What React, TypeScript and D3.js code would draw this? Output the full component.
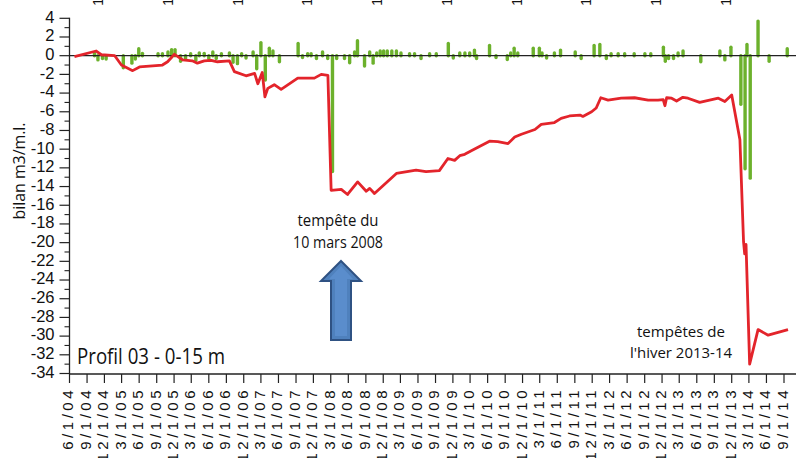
import React from 'react';
import * as d3 from 'd3';

const W = 796;
const H = 458;

const lineDates = ['2004-06-27','2004-10-19','2004-11-15','2005-01-24','2005-02-28','2005-04-28','2005-06-03','2005-10-01','2005-10-28','2005-12-03','2006-01-15','2006-03-06','2006-04-02','2006-05-08','2006-06-13','2006-07-16','2006-09-17','2006-10-13','2006-12-13','2007-01-27','2007-02-13','2007-03-08','2007-03-22','2007-04-06','2007-05-10','2007-06-15','2007-09-10','2007-12-06','2008-01-11','2008-02-15','2008-03-03','2008-04-25','2008-05-28','2008-07-20','2008-09-03','2008-09-21','2008-10-16','2009-02-08','2009-05-22','2009-07-13','2009-09-21','2009-11-05','2009-12-10','2010-01-06','2010-02-01','2010-03-15','2010-06-11','2010-07-24','2010-09-16','2010-10-21','2010-11-25','2011-02-04','2011-03-09','2011-05-17','2011-06-21','2011-08-04','2011-09-28','2011-10-13','2011-11-28','2011-12-22','2012-01-15','2012-02-22','2012-05-01','2012-07-10','2012-09-19','2012-11-10','2012-12-07','2012-12-16','2012-12-25','2013-01-20','2013-02-15','2013-03-20','2013-04-16','2013-06-16','2013-09-22','2013-10-26','2013-12-01','2014-01-13','2014-02-01','2014-02-07','2014-02-14','2014-03-05','2014-04-18','2014-06-10','2014-09-22'];
const lineValues = [-0.1,0.5,0.1,0.0,-1.0,-1.6,-1.2,-1.0,-0.65,0.15,-0.45,-0.55,-0.8,-0.55,-0.5,-0.65,-0.55,-1.7,-2.15,-1.9,-3.0,-1.8,-4.4,-3.5,-3.1,-3.6,-2.4,-2.4,-2.0,-2.1,-14.4,-14.3,-14.85,-13.5,-14.5,-14.2,-14.75,-12.6,-12.25,-12.4,-12.3,-11.0,-11.2,-10.7,-10.55,-10.1,-9.15,-9.2,-9.4,-8.7,-8.4,-7.9,-7.35,-7.15,-6.7,-6.45,-6.35,-6.5,-6.0,-5.6,-4.5,-4.75,-4.55,-4.5,-4.75,-4.75,-4.7,-5.35,-4.5,-4.55,-4.85,-4.45,-4.55,-5.0,-4.55,-4.9,-4.2,-9.0,-19.9,-21.2,-20.2,-33.0,-29.3,-29.9,-29.3];

const barDates = ['2004-10-10','2004-10-28','2004-11-21','2004-12-10','2005-03-10','2005-04-24','2005-05-12','2005-05-30','2005-06-18','2005-09-08','2005-10-01','2005-10-30','2005-11-18','2005-12-06','2006-01-04','2006-01-30','2006-02-26','2006-03-25','2006-04-12','2006-05-08','2006-06-01','2006-06-22','2006-07-10','2006-08-06','2006-09-17','2006-10-06','2006-10-29','2006-11-20','2006-12-13','2007-01-19','2007-02-07','2007-03-01','2007-03-24','2007-04-14','2007-05-03','2007-06-06','2007-09-12','2007-10-05','2007-11-01','2007-11-19','2007-12-17','2008-01-18','2008-02-14','2008-03-10','2008-04-01','2008-05-12','2008-06-08','2008-07-04','2008-07-19','2008-08-25','2008-09-21','2008-10-09','2008-10-28','2008-11-15','2008-12-03','2008-12-22','2009-01-15','2009-02-08','2009-03-04','2009-04-18','2009-05-14','2009-06-17','2009-08-01','2009-09-05','2009-11-07','2009-12-03','2010-01-06','2010-02-02','2010-02-27','2010-03-24','2010-04-04','2010-06-11','2010-07-15','2010-09-12','2010-09-30','2010-10-18','2010-11-06','2011-01-26','2011-02-27','2011-03-13','2011-04-06','2011-05-17','2011-06-18','2011-09-03','2011-10-04','2011-12-11','2012-01-10','2012-02-13','2012-03-09','2012-04-15','2012-05-19','2012-07-08','2012-09-02','2012-10-03','2012-12-08','2012-12-18','2013-01-04','2013-01-30','2013-02-23','2013-03-21','2013-06-22','2013-09-30','2013-10-26','2013-11-27','2014-01-18','2014-02-09','2014-02-19','2014-03-08','2014-04-18','2014-06-15','2014-09-18'];
const barValues = [0.3,-0.45,-0.3,-0.35,-1.3,-0.8,-0.35,0.75,0.25,0.2,0.2,0.4,0.65,0.65,-0.6,-0.3,0.2,-0.5,0.3,0.25,-0.3,0.4,-0.3,0.2,0.3,-0.7,-0.85,0.2,-0.25,0.4,-1.4,1.4,-2.6,0.8,0.5,-0.65,1.3,-0.2,0.2,0.2,-0.3,0.4,-0.3,-12.4,-0.3,-0.3,-0.75,0.4,1.6,-1.1,0.4,-0.8,0.3,0.5,0.5,0.5,0.5,0.5,0.3,0.2,0.2,-0.3,0.2,0.2,1.3,-0.25,0.3,0.3,0.3,0.6,-0.3,1.1,-0.2,-0.4,0.3,0.8,0.3,0.8,0.8,0.3,-0.25,0.3,0.6,0.4,-0.3,1.1,1.2,-0.3,0.2,0.2,0.2,0.2,0.2,0.2,0.9,-0.6,-0.3,-0.3,0.3,0.5,-0.65,0.5,-0.45,0.9,-5.2,-12.1,1.2,-13.1,3.7,-0.6,0.75];

const yTickLabels = ['4','2','0','-2','-4','-6','-8','-10','-12','-14','-16','-18','-20','-22','-24','-26','-28','-30','-32','-34'];
const xTickLabels = ['6/1/04','9/1/04','12/1/04','3/1/05','6/1/05','9/1/05','12/1/05','3/1/06','6/1/06','9/1/06','12/1/06','3/1/07','6/1/07','9/1/07','12/1/07','3/1/08','6/1/08','9/1/08','12/1/08','3/1/09','6/1/09','9/1/09','12/1/09','3/1/10','6/1/10','9/1/10','12/1/10','3/1/11','6/1/11','9/1/11','12/1/11','3/1/12','6/1/12','9/1/12','12/1/12','3/1/13','6/1/13','9/1/13','12/1/13','3/1/14','6/1/14','9/1/14'];
const topCutLabels = ['12/1/04','12/1/05','12/1/06','12/1/07','12/1/08','12/1/09','12/1/10','12/1/11','12/1/12','12/1/13'];

const parseIso = d3.timeParse('%Y-%m-%d');
const parseTick = d3.timeParse('%m/%d/%y');

const RED = '#e3242b';
const GREEN = '#6cb12c';
const TICK_FONT = "'Liberation Sans', Arial, sans-serif";
const TEXT_FONT = "'Open Sans', 'Noto Sans', sans-serif";

export default function App() {
  const x = d3.scaleTime()
    .domain([parseTick('6/1/04') as Date, parseTick('9/1/14') as Date])
    .range([69.5, 784]);
  const y = d3.scaleLinear().domain([-34, 4]).range([373.5, 18.3]);

  const linePts = lineDates.map((d, i) => [x(parseIso(d) as Date), y(lineValues[i])] as [number, number]);
  const linePath = d3.line()(linePts) || '';

  const y0 = y(0);
  const axisX = 69.5;
  const axisY = 374;

  const minorTicks = yTickLabels.slice(0, -1).map((t) => +t - 1);

  const arrowCx = 341;

  return (
    <svg width={W} height={H} style={{ position: 'absolute', left: 0, top: 0, background: '#fff' }}>
      <rect x={0} y={0} width={W} height={H} fill="#fff" />

      {/* cut-off labels of a chart above */}
      {topCutLabels.map((t) => {
        const px = x(parseTick(t) as Date) - 5;
        return (
          <text key={'top' + t} transform={`translate(${px},6) rotate(-90)`} textAnchor="start"
            dominantBaseline="middle" fontFamily={TICK_FONT} fontSize={15} letterSpacing={3.5} fill="#111">{t}</text>
        );
      })}

      {/* bars */}
      {barDates.map((d, i) => {
        const px = x(parseIso(d) as Date);
        const v = barValues[i];
        return (
          <line key={'b' + i} x1={px} x2={px} y1={y0} y2={y(v)} stroke={GREEN}
            strokeWidth={3.4} strokeLinecap="round" />
        );
      })}

      {/* zero line */}
      <line x1={axisX} x2={W} y1={y0} y2={y0} stroke="#222" strokeWidth={1.3} />

      {/* red line */}
      <path d={linePath} fill="none" stroke={RED} strokeWidth={2.8} strokeLinejoin="round" />

      {/* y axis */}
      <line x1={axisX} x2={axisX} y1={y(4) - 0.5} y2={axisY} stroke="#222" strokeWidth={1.3} />
      {yTickLabels.map((t) => (
        <g key={'y' + t}>
          <line x1={axisX - 10} x2={axisX} y1={y(+t)} y2={y(+t)} stroke="#222" strokeWidth={1.2} />
          <text x={axisX - 15} y={y(+t)} textAnchor="end" dominantBaseline="middle"
            fontFamily={TICK_FONT} fontSize={16.5} fill="#111">{t}</text>
        </g>
      ))}
      {minorTicks.map((v) => (
        <line key={'m' + v} x1={axisX - 5} x2={axisX} y1={y(v)} y2={y(v)} stroke="#222" strokeWidth={1.1} />
      ))}
      <text transform={`translate(25,171) rotate(-90)`} textAnchor="middle" fontFamily={TEXT_FONT}
        fontSize={16} textLength={97} lengthAdjust="spacingAndGlyphs" fill="#111">bilan m3/m.l.</text>

      {/* x axis */}
      <line x1={axisX} x2={W} y1={axisY} y2={axisY} stroke="#222" strokeWidth={1.3} />
      {xTickLabels.map((t) => {
        const px = x(parseTick(t) as Date);
        return (
          <g key={'x' + t}>
            <line x1={px} x2={px} y1={axisY} y2={axisY + 9} stroke="#222" strokeWidth={1.2} />
            <text transform={`translate(${px},387) rotate(-90)`} textAnchor="end" dominantBaseline="middle"
              fontFamily={TICK_FONT} fontSize={15} letterSpacing={3.5} fill="#111">{t}</text>
          </g>
        );
      })}

      {/* annotations */}
      <text x={77} y={364} fontFamily={TEXT_FONT} fontSize={21} textLength={148} lengthAdjust="spacingAndGlyphs" fill="#111">Profil 03 - 0-15 m</text>
      <text x={338} y={226} textAnchor="middle" fontFamily={TEXT_FONT} fontSize={15.5} textLength={81} lengthAdjust="spacingAndGlyphs" fill="#111">tempête du</text>
      <text x={338} y={248} textAnchor="middle" fontFamily={TEXT_FONT} fontSize={15.5} textLength={90} lengthAdjust="spacingAndGlyphs" fill="#111">10 mars 2008</text>
      <text x={681} y={337} textAnchor="middle" fontFamily={TEXT_FONT} fontSize={15} textLength={88} lengthAdjust="spacingAndGlyphs" fill="#111">tempêtes de</text>
      <text x={681} y={358} textAnchor="middle" fontFamily={TEXT_FONT} fontSize={15} textLength={102} lengthAdjust="spacingAndGlyphs" fill="#111">l'hiver 2013-14</text>

      {/* arrow */}
      <path d={`M${arrowCx},261 L${arrowCx + 20},281 L${arrowCx + 10},281 L${arrowCx + 10},340 L${arrowCx - 10},340 L${arrowCx - 10},281 L${arrowCx - 20},281 Z`}
        fill="#4f81bd" stroke="#2f5283" strokeWidth={2} strokeLinejoin="miter" />
      <path d={`M${arrowCx},266 L${arrowCx + 12},279 L${arrowCx + 6},279 L${arrowCx + 6},336 L${arrowCx - 6},336 L${arrowCx - 6},279 L${arrowCx - 12},279 Z`}
        fill="#5a8dcc" stroke="none" />
    </svg>
  );
}
